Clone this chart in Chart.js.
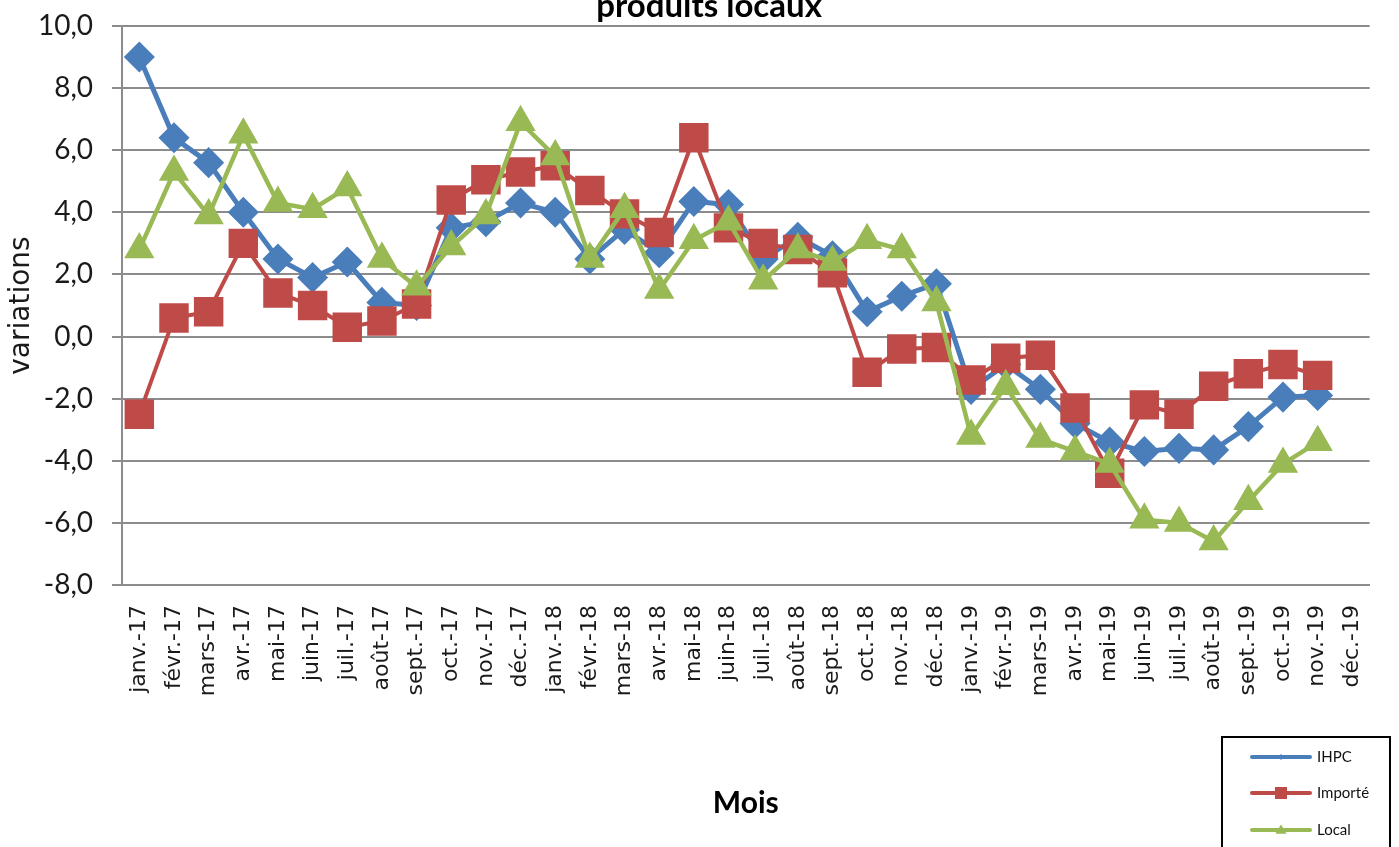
<!DOCTYPE html>
<html>
<head>
<meta charset="utf-8">
<script src="https://cdn.jsdelivr.net/npm/chart.js@4/dist/chart.umd.min.js"></script>
<style>
  body { margin: 0; background: #fff; }
  #wrap { position: relative; width: 1399px; height: 847px; overflow: hidden; }
</style>
</head>
<body>
<div id="wrap"><canvas id="myChart"></canvas></div>
<script>
// months on the x axis
const months = [
  "janv.-17", "févr.-17", "mars-17", "avr.-17", "mai-17", "juin-17", "juil.-17", "août-17", "sept.-17", "oct.-17", "nov.-17", "déc.-17",
  "janv.-18", "févr.-18", "mars-18", "avr.-18", "mai-18", "juin-18", "juil.-18", "août-18", "sept.-18", "oct.-18", "nov.-18", "déc.-18",
  "janv.-19", "févr.-19", "mars-19", "avr.-19", "mai-19", "juin-19", "juil.-19", "août-19", "sept.-19", "oct.-19", "nov.-19", "déc.-19"
];

// series values
const ihpc = [9.0, 6.4, 5.6, 4.0, 2.5, 1.9, 2.4, 1.1, 1.0, 3.5, 3.7, 4.3,
              4.0, 2.5, 3.45, 2.7, 4.35, 4.25, 2.5, 3.2, 2.6, 0.8, 1.3, 1.7,
              -1.7, -0.9, -1.7, -2.8, -3.4, -3.7, -3.6, -3.65, -2.9, -1.95, -1.9];
const importe = [-2.5, 0.6, 0.8, 3.0, 1.4, 1.0, 0.3, 0.5, 1.05, 4.4, 5.05, 5.3,
                 5.5, 4.7, 3.95, 3.35, 6.4, 3.5, 3.0, 2.8, 2.05, -1.15, -0.4, -0.35,
                 -1.4, -0.7, -0.6, -2.3, -4.4, -2.2, -2.5, -1.6, -1.2, -0.9, -1.25];
const local = [2.8, 5.3, 3.9, 6.5, 4.3, 4.1, 4.8, 2.5, 1.6, 2.9, 3.9, 6.9,
               5.8, 2.5, 4.1, 1.5, 3.1, 3.7, 1.8, 2.8, 2.4, 3.1, 2.8, 1.1,
               -3.2, -1.6, -3.3, -3.7, -4.1, -5.9, -6.0, -6.6, -5.3, -4.1, -3.4];

const yMin = -8, yMax = 10, yStep = 2;

const blue = "#4a7ebb", red = "#be4b48", green = "#98b954";

// the title is cut by the top edge in the original, only its second line shows
const topTitle = {
  id: "topTitle",
  afterDraw(chart) {
    const ctx = chart.ctx;
    ctx.save();
    ctx.fillStyle = "#000";
    ctx.font = "bold 33px Lato";
    ctx.textAlign = "center";
    ctx.textBaseline = "alphabetic";
    ctx.fillText("produits locaux", 709, 17);
    ctx.restore();
  }
};

// little legend box in the lower right corner, like the Excel one
function drawMarker(ctx, style, x, y, r) {
  ctx.beginPath();
  if (style === "rectRot") {
    ctx.moveTo(x, y - r); ctx.lineTo(x + r, y); ctx.lineTo(x, y + r); ctx.lineTo(x - r, y);
  } else if (style === "rect") {
    ctx.rect(x - r, y - r, 2 * r, 2 * r);
  } else {
    ctx.moveTo(x, y - r); ctx.lineTo(x + r, y + r * 0.7); ctx.lineTo(x - r, y + r * 0.7);
  }
  ctx.closePath();
  ctx.fill();
}

const cornerLegend = {
  id: "cornerLegend",
  afterDraw(chart) {
    const ctx = chart.ctx;
    ctx.save();
    ctx.strokeStyle = "#000";
    ctx.lineWidth = 2;
    ctx.strokeRect(1222, 737, 168, 130);
    const rows = [757, 793, 830];
    const sizes = [3, 6, 5.5];
    chart.data.datasets.forEach(function(ds, i) {
      const y = rows[i];
      ctx.strokeStyle = ds.borderColor;
      ctx.fillStyle = ds.borderColor;
      ctx.lineWidth = 4;
      ctx.lineCap = "round";
      ctx.beginPath();
      ctx.moveTo(1252, y);
      ctx.lineTo(1310, y);
      ctx.stroke();
      drawMarker(ctx, ds.pointStyle, 1281, y, sizes[i]);
      ctx.fillStyle = "#111";
      ctx.font = "15px Lato";
      ctx.textBaseline = "middle";
      ctx.textAlign = "left";
      ctx.fillText(ds.label, 1317, y);
    });
    ctx.restore();
  }
};

new Chart("myChart", {
  type: "line",
  data: {
    labels: months,
    datasets: [{
      label: "IHPC",
      data: ihpc,
      borderColor: blue,
      backgroundColor: blue,
      borderWidth: 5,
      pointStyle: "rectRot",
      pointRadius: 12,
      pointHoverRadius: 12,
      order: 2
    }, {
      label: "Importé",
      data: importe,
      borderColor: red,
      backgroundColor: red,
      borderWidth: 4,
      pointStyle: "rect",
      pointRadius: 18,
      pointHoverRadius: 18,
      order: 1
    }, {
      label: "Local",
      data: local,
      borderColor: green,
      backgroundColor: green,
      borderWidth: 4.5,
      pointStyle: "triangle",
      pointRadius: 13,
      pointHoverRadius: 13,
      order: 0
    }]
  },
  options: {
    responsive: true,
    maintainAspectRatio: false,
    animation: false,
    layout: { padding: { left: 0, right: 2, top: 26, bottom: 0 } },
    elements: { line: { tension: 0 } },
    plugins: {
      legend: { display: false },
      tooltip: { enabled: false },
      title: { display: false }
    },
    scales: {
      x: {
        offset: true,
        grid: { display: false, drawTicks: false },
        border: { display: true, color: "#8c8c8c", width: 2 },
        ticks: {
          autoSkip: false,
          minRotation: 90,
          maxRotation: 90,
          padding: 20,
          color: "#1a1a1a",
          font: { family: "DejaVu Sans", size: 22 }
        },
        title: {
          display: true,
          text: "Mois",
          color: "#000",
          font: { family: "Lato", size: 30, weight: "bold" },
          padding: { top: 0, bottom: 26 }
        },
        afterFit: function(scale) { scale.height = 262; }
      },
      y: {
        min: yMin,
        max: yMax,
        grid: { color: "#8c8c8c", lineWidth: 2, tickLength: 10 },
        border: { display: true, color: "#8c8c8c", width: 2 },
        ticks: {
          stepSize: yStep,
          padding: 19,
          color: "#1a1a1a",
          font: { family: "Lato", size: 28 },
          callback: function(v) { return v.toFixed(1).replace(".", ","); }
        },
        title: {
          display: true,
          text: "variations",
          color: "#1a1a1a",
          font: { family: "DejaVu Sans", size: 28 },
          padding: { top: 5, bottom: 0 }
        },
        afterFit: function(scale) {
          scale.width = 122;
          // labels may overhang the plot a little, as in the original
          scale.paddingTop = 10;
          scale.paddingBottom = 10;
        }
      }
    }
  },
  plugins: [topTitle, cornerLegend]
});
</script>
</body>
</html>
